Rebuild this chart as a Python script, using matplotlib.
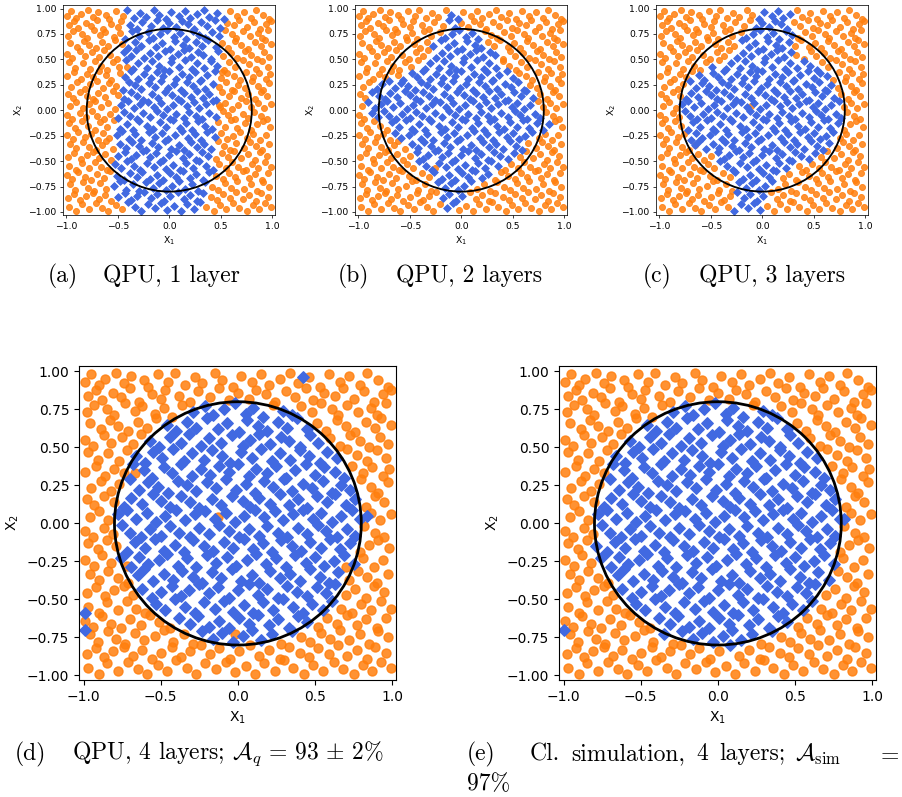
import numpy as np
import matplotlib.pyplot as plt
from matplotlib.path import Path

# --- test set (x1, x2), shared by all panels ---
TEST_POINTS = [
    (-0.99,0.93),(-0.95,0.98),(-0.90,0.91),(-0.86,0.95),(-0.79,0.99),(-0.74,0.92),(-0.69,0.97),(-0.61,0.94),(-0.58,0.90),(-0.52,0.98),(-0.45,0.93),(-0.41,0.99),(-0.34,0.91),(-0.28,0.96),(-0.23,0.92),(-0.15,0.99),(-0.10,0.94),(-0.03,0.90),(0.02,0.97),(0.09,0.93),(0.15,0.98),(0.20,0.91),(0.27,0.95),(0.34,0.99),(0.39,0.92),(0.46,0.96),(0.53,0.90),(0.59,0.98),(0.66,0.93),(0.72,0.97),(0.79,0.91),(0.84,0.99),(0.91,0.94),(0.97,0.90),
    (-0.97,0.84),(-0.92,0.88),(-0.88,0.81),(-0.81,0.86),(-0.76,0.83),(-0.70,0.89),(-0.64,0.80),(-0.56,0.85),(-0.50,0.82),(-0.47,0.88),(-0.38,0.84),(-0.31,0.80),(-0.26,0.87),(-0.18,0.83),(-0.12,0.89),(-0.06,0.81),(0.00,0.86),(0.07,0.82),(0.12,0.88),(0.18,0.85),(0.24,0.80),(0.31,0.87),(0.37,0.83),(0.44,0.89),(0.49,0.81),(0.56,0.86),(0.63,0.84),(0.68,0.89),(0.75,0.82),(0.82,0.87),(0.88,0.80),(0.94,0.85),(0.99,0.88),
    (-0.98,0.73),(-0.93,0.78),(-0.85,0.75),(-0.80,0.71),(-0.73,0.79),(-0.67,0.74),(-0.62,0.77),(-0.54,0.72),(-0.48,0.76),(-0.43,0.70),(-0.36,0.78),(-0.29,0.73),(-0.21,0.77),(-0.16,0.71),(-0.09,0.75),(-0.02,0.79),(0.05,0.72),(0.10,0.76),(0.16,0.70),(0.23,0.78),(0.29,0.74),(0.35,0.71),(0.41,0.77),(0.48,0.73),(0.54,0.79),(0.61,0.75),(0.65,0.71),(0.71,0.78),(0.78,0.73),(0.86,0.76),(0.90,0.71),(0.96,0.79),
    (-0.96,0.66),(-0.89,0.62),(-0.83,0.68),(-0.78,0.64),(-0.71,0.61),(-0.65,0.67),(-0.59,0.63),(-0.53,0.69),(-0.46,0.65),(-0.40,0.61),(-0.33,0.67),(-0.27,0.63),(-0.20,0.69),(-0.13,0.62),(-0.07,0.66),(0.01,0.60),(0.06,0.68),(0.13,0.64),(0.19,0.61),(0.26,0.67),(0.32,0.63),(0.38,0.69),(0.45,0.62),(0.51,0.66),(0.57,0.61),(0.64,0.68),(0.70,0.64),(0.76,0.60),(0.83,0.67),(0.89,0.63),(0.93,0.69),(0.99,0.65),
    (-0.99,0.55),(-0.94,0.51),(-0.87,0.58),(-0.82,0.53),(-0.75,0.57),(-0.68,0.52),(-0.63,0.59),(-0.57,0.54),(-0.51,0.50),(-0.44,0.57),(-0.37,0.53),(-0.32,0.59),(-0.24,0.51),(-0.19,0.56),(-0.11,0.53),(-0.04,0.58),(0.03,0.51),(0.08,0.55),(0.14,0.59),(0.21,0.52),(0.28,0.57),(0.33,0.54),(0.40,0.50),(0.47,0.58),(0.52,0.53),(0.60,0.56),(0.66,0.51),(0.73,0.58),(0.79,0.54),(0.85,0.50),(0.92,0.57),(0.97,0.52),
    (-0.97,0.47),(-0.91,0.42),(-0.84,0.46),(-0.77,0.41),(-0.72,0.48),(-0.66,0.44),(-0.60,0.40),(-0.55,0.47),(-0.49,0.43),(-0.42,0.49),(-0.35,0.41),(-0.30,0.46),(-0.22,0.42),(-0.17,0.48),(-0.10,0.44),(-0.05,0.40),(0.02,0.47),(0.09,0.43),(0.15,0.49),(0.22,0.41),(0.27,0.46),(0.34,0.42),(0.40,0.48),(0.46,0.44),(0.53,0.40),(0.58,0.47),(0.64,0.43),(0.71,0.49),(0.77,0.45),(0.84,0.41),(0.90,0.48),(0.96,0.43),
    (-0.99,0.34),(-0.92,0.38),(-0.86,0.31),(-0.80,0.36),(-0.74,0.33),(-0.68,0.39),(-0.61,0.35),(-0.56,0.30),(-0.48,0.37),(-0.43,0.33),(-0.37,0.39),(-0.30,0.31),(-0.24,0.36),(-0.18,0.32),(-0.12,0.38),(-0.06,0.34),(0.00,0.39),(0.07,0.31),(0.12,0.36),(0.19,0.33),(0.25,0.38),(0.31,0.30),(0.37,0.35),(0.44,0.39),(0.50,0.32),(0.56,0.37),(0.63,0.34),(0.69,0.30),(0.74,0.38),(0.81,0.33),(0.87,0.37),(0.94,0.31),(0.98,0.36),
    (-0.95,0.23),(-0.89,0.28),(-0.82,0.21),(-0.77,0.26),(-0.70,0.29),(-0.64,0.22),(-0.58,0.27),(-0.52,0.24),(-0.45,0.20),(-0.39,0.28),(-0.33,0.25),(-0.27,0.21),(-0.20,0.27),(-0.14,0.23),(-0.08,0.29),(-0.01,0.22),(0.05,0.26),(0.11,0.20),(0.17,0.28),(0.23,0.24),(0.30,0.29),(0.35,0.21),(0.42,0.26),(0.48,0.23),(0.55,0.28),(0.61,0.20),(0.67,0.25),(0.73,0.22),(0.80,0.29),(0.86,0.24),(0.91,0.20),(0.97,0.27),
    (-0.98,0.16),(-0.93,0.12),(-0.87,0.18),(-0.80,0.14),(-0.74,0.11),(-0.69,0.17),(-0.62,0.13),(-0.55,0.19),(-0.50,0.15),(-0.44,0.11),(-0.37,0.18),(-0.31,0.14),(-0.25,0.10),(-0.17,0.16),(-0.11,0.12),(-0.04,0.18),(0.03,0.15),(0.08,0.11),(0.14,0.17),(0.21,0.13),(0.27,0.19),(0.33,0.12),(0.39,0.16),(0.45,0.10),(0.51,0.18),(0.58,0.14),(0.63,0.19),(0.70,0.12),(0.76,0.16),(0.83,0.11),(0.89,0.18),(0.95,0.14),
    (-0.96,0.04),(-0.90,0.08),(-0.84,0.02),(-0.78,0.06),(-0.72,0.09),(-0.66,0.03),(-0.59,0.07),(-0.53,0.01),(-0.47,0.05),(-0.40,0.09),(-0.34,0.02),(-0.28,0.06),(-0.21,0.08),(-0.15,0.03),(-0.08,0.07),(-0.02,0.01),(0.04,0.05),(0.11,0.09),(0.17,0.04),(0.24,0.08),(0.29,0.02),(0.36,0.06),(0.42,0.09),(0.49,0.03),(0.54,0.07),(0.61,0.01),(0.67,0.05),(0.74,0.09),(0.79,0.03),(0.86,0.07),(0.92,0.02),(0.99,0.06),
    (-0.99,-0.05),(-0.94,-0.09),(-0.87,-0.03),(-0.81,-0.07),(-0.75,-0.01),(-0.70,-0.06),(-0.63,-0.09),(-0.57,-0.04),(-0.50,-0.08),(-0.44,-0.02),(-0.38,-0.06),(-0.31,-0.09),(-0.25,-0.03),(-0.19,-0.07),(-0.12,-0.01),(-0.06,-0.05),(0.01,-0.09),(0.07,-0.04),(0.14,-0.08),(0.19,-0.02),(0.26,-0.06),(0.32,-0.09),(0.39,-0.03),(0.45,-0.07),(0.52,-0.01),(0.57,-0.05),(0.64,-0.09),(0.71,-0.04),(0.76,-0.08),(0.82,-0.02),(0.89,-0.06),(0.95,-0.09),
    (-0.97,-0.13),(-0.91,-0.17),(-0.85,-0.11),(-0.79,-0.15),(-0.72,-0.19),(-0.67,-0.12),(-0.60,-0.16),(-0.54,-0.10),(-0.48,-0.18),(-0.41,-0.14),(-0.35,-0.19),(-0.29,-0.11),(-0.22,-0.15),(-0.16,-0.18),(-0.09,-0.12),(-0.03,-0.16),(0.04,-0.10),(0.10,-0.17),(0.16,-0.13),(0.22,-0.19),(0.28,-0.11),(0.35,-0.15),(0.41,-0.18),(0.47,-0.12),(0.54,-0.16),(0.60,-0.10),(0.66,-0.17),(0.73,-0.13),(0.79,-0.19),(0.85,-0.14),(0.91,-0.11),(0.98,-0.16),
    (-0.99,-0.24),(-0.93,-0.28),(-0.88,-0.21),(-0.82,-0.26),(-0.76,-0.23),(-0.69,-0.29),(-0.64,-0.22),(-0.58,-0.27),(-0.51,-0.24),(-0.46,-0.20),(-0.39,-0.28),(-0.33,-0.23),(-0.27,-0.29),(-0.20,-0.21),(-0.14,-0.26),(-0.07,-0.22),(-0.01,-0.28),(0.06,-0.24),(0.12,-0.20),(0.18,-0.27),(0.25,-0.23),(0.31,-0.29),(0.37,-0.21),(0.44,-0.26),(0.50,-0.22),(0.56,-0.28),(0.62,-0.25),(0.69,-0.21),(0.75,-0.27),(0.81,-0.23),(0.88,-0.29),(0.94,-0.24),
    (-0.96,-0.33),(-0.90,-0.37),(-0.84,-0.31),(-0.78,-0.36),(-0.71,-0.39),(-0.65,-0.34),(-0.61,-0.30),(-0.55,-0.38),(-0.48,-0.33),(-0.42,-0.37),(-0.36,-0.31),(-0.29,-0.35),(-0.23,-0.39),(-0.17,-0.32),(-0.11,-0.36),(-0.04,-0.30),(0.02,-0.38),(0.09,-0.34),(0.14,-0.39),(0.21,-0.31),(0.27,-0.36),(0.34,-0.33),(0.40,-0.38),(0.47,-0.30),(0.53,-0.35),(0.59,-0.39),(0.65,-0.32),(0.72,-0.37),(0.78,-0.31),(0.84,-0.35),(0.90,-0.39),(0.97,-0.33),
    (-0.98,-0.46),(-0.92,-0.42),(-0.86,-0.48),(-0.80,-0.44),(-0.74,-0.41),(-0.68,-0.47),(-0.62,-0.43),(-0.56,-0.49),(-0.50,-0.45),(-0.43,-0.41),(-0.37,-0.48),(-0.32,-0.44),(-0.25,-0.40),(-0.19,-0.46),(-0.13,-0.42),(-0.06,-0.49),(0.00,-0.44),(0.07,-0.40),(0.13,-0.47),(0.19,-0.43),(0.26,-0.49),(0.32,-0.41),(0.38,-0.45),(0.45,-0.48),(0.51,-0.42),(0.57,-0.46),(0.63,-0.40),(0.70,-0.47),(0.76,-0.43),(0.83,-0.49),(0.88,-0.41),(0.95,-0.45),
    (-0.97,-0.55),(-0.90,-0.59),(-0.85,-0.52),(-0.78,-0.57),(-0.72,-0.51),(-0.66,-0.56),(-0.60,-0.59),(-0.53,-0.53),(-0.47,-0.57),(-0.41,-0.50),(-0.34,-0.55),(-0.28,-0.59),(-0.22,-0.52),(-0.15,-0.56),(-0.09,-0.51),(-0.03,-0.58),(0.04,-0.54),(0.10,-0.59),(0.16,-0.52),(0.23,-0.57),(0.29,-0.50),(0.36,-0.55),(0.42,-0.59),(0.48,-0.53),(0.55,-0.57),(0.61,-0.51),(0.67,-0.56),(0.74,-0.59),(0.80,-0.53),(0.86,-0.57),(0.93,-0.51),(0.99,-0.56),
    (-0.99,-0.64),(-0.94,-0.68),(-0.88,-0.61),(-0.82,-0.66),(-0.76,-0.69),(-0.70,-0.63),(-0.63,-0.67),(-0.57,-0.60),(-0.51,-0.65),(-0.44,-0.69),(-0.38,-0.62),(-0.31,-0.66),(-0.26,-0.61),(-0.19,-0.68),(-0.12,-0.64),(-0.06,-0.69),(0.01,-0.62),(0.07,-0.66),(0.13,-0.60),(0.20,-0.67),(0.26,-0.63),(0.33,-0.69),(0.39,-0.61),(0.45,-0.65),(0.52,-0.68),(0.58,-0.62),(0.64,-0.66),(0.71,-0.60),(0.77,-0.67),(0.83,-0.63),(0.90,-0.69),(0.96,-0.62),
    (-0.96,-0.73),(-0.91,-0.78),(-0.84,-0.71),(-0.79,-0.76),(-0.73,-0.79),(-0.67,-0.72),(-0.61,-0.77),(-0.54,-0.74),(-0.48,-0.70),(-0.42,-0.78),(-0.35,-0.73),(-0.29,-0.79),(-0.23,-0.71),(-0.16,-0.76),(-0.10,-0.72),(-0.03,-0.78),(0.03,-0.74),(0.09,-0.70),(0.15,-0.77),(0.22,-0.73),(0.28,-0.79),(0.35,-0.71),(0.41,-0.75),(0.47,-0.78),(0.54,-0.72),(0.60,-0.76),(0.66,-0.70),(0.72,-0.77),(0.79,-0.73),(0.85,-0.79),(0.91,-0.71),(0.97,-0.75),
    (-0.98,-0.86),(-0.92,-0.82),(-0.87,-0.88),(-0.81,-0.84),(-0.74,-0.81),(-0.68,-0.87),(-0.62,-0.83),(-0.56,-0.89),(-0.50,-0.85),(-0.43,-0.81),(-0.37,-0.88),(-0.31,-0.84),(-0.24,-0.80),(-0.18,-0.86),(-0.12,-0.82),(-0.05,-0.89),(0.01,-0.84),(0.08,-0.80),(0.14,-0.87),(0.20,-0.83),(0.27,-0.89),(0.33,-0.81),(0.40,-0.85),(0.46,-0.88),(0.52,-0.82),(0.59,-0.86),(0.65,-0.80),(0.71,-0.87),(0.77,-0.83),(0.84,-0.89),(0.89,-0.81),(0.96,-0.85),
    (-0.97,-0.95),(-0.90,-0.99),(-0.85,-0.92),(-0.78,-0.97),(-0.71,-0.91),(-0.65,-0.96),(-0.59,-0.99),(-0.52,-0.93),(-0.46,-0.97),(-0.40,-0.90),(-0.33,-0.95),(-0.27,-0.99),(-0.21,-0.92),(-0.14,-0.96),(-0.08,-0.91),(-0.02,-0.98),(0.05,-0.94),(0.11,-0.99),(0.17,-0.92),(0.24,-0.97),(0.30,-0.90),(0.36,-0.95),(0.43,-0.99),(0.49,-0.93),(0.55,-0.97),(0.62,-0.91),(0.68,-0.96),(0.75,-0.99),(0.81,-0.93),(0.87,-0.97),(0.93,-0.91),(0.99,-0.95),
]

# --- region predicted as the inner class (blue) for the QPU runs with 1-3 layers ---
REGION_1_LAYER = [(-0.41,1.1),(0.56,1.1),(0.56,0.9),(0.50,0.72),(0.48,0.50),(0.44,0.30),(0.46,0.05),
                  (0.47,-0.20),(0.44,-0.45),(0.41,-0.70),(0.38,-0.90),(0.24,-1.1),(-0.27,-1.1),(-0.52,-0.85),
                  (-0.58,-0.65),(-0.54,-0.50),(-0.53,-0.30),(-0.49,0.0),(-0.50,0.25),(-0.44,0.60),(-0.45,0.80)]
REGION_2_LAYERS = [(-0.12,1.05),(-0.05,1.05),(0.0,0.85),(0.15,0.75),(0.30,0.60),(0.42,0.45),(0.60,0.32),
                   (0.72,0.15),(0.76,0.0),(0.86,-0.15),(0.66,-0.30),(0.55,-0.45),(0.40,-0.60),(0.10,-0.75),
                   (-0.05,-0.90),(-0.11,-1.05),(-0.18,-1.05),(-0.23,-0.80),(-0.32,-0.60),(-0.47,-0.45),
                   (-0.57,-0.30),(-0.77,-0.15),(-0.93,-0.05),(-0.92,0.10),(-0.82,0.34),(-0.60,0.30),
                   (-0.45,0.45),(-0.30,0.60),(-0.20,0.75),(-0.14,0.90)]
REGION_3_LAYERS = [(-0.08,1.05),(0.30,1.05),(0.30,0.50),(0.55,0.45),(0.72,0.25),(0.79,0.0),(0.72,-0.20),
                   (0.65,-0.35),(0.55,-0.45),(0.30,-0.55),(0.05,-0.75),(0.02,-1.05),(-0.28,-1.05),(-0.27,-0.70),
                   (-0.38,-0.55),(-0.50,-0.42),(-0.65,-0.36),(-0.76,-0.20),(-0.80,0.0),(-0.75,0.25),
                   (-0.55,0.42),(-0.33,0.50),(-0.20,0.60),(-0.22,0.75),(-0.10,0.88)]
# 4 layers: boundary is close to the true circle
RADIUS_4_LAYERS_QPU = 0.80
RADIUS_4_LAYERS_SIM = 0.81
TRUE_RADIUS = 0.8

# isolated wrong-class points that stand out in each panel
ODD_ORANGE_A = [(-0.41,0.43),(0.51,0.38),(0.48,0.05)]
ODD_ORANGE_B = [(-0.25,-0.57)]
ODD_ORANGE_C = [(-0.11,0.04),(-0.65,-0.34)]
ODD_ORANGE_D = [(-0.13,0.04),(-0.67,0.33),(-0.02,-0.73),(-0.72,-0.28),(0.70,-0.29)]
ODD_BLUE_D = [(-0.99,-0.59),(-0.99,-0.70),(0.42,0.96),(0.84,0.05)]
ODD_BLUE_E = [(-1.0,-0.70),(0.82,0.03)]

CAPTIONS = {
    'a': ('(a)', 'QPU, 1 layer'),
    'b': ('(b)', 'QPU, 2 layers'),
    'c': ('(c)', 'QPU, 3 layers'),
    'd': ('(d)', r'QPU, 4 layers; $\mathcal{A}_q \,=\, 93 \,\pm\, 2\%$'),
}

ORANGE = '#ff7f0e'
BLUE = 'royalblue'
W, H = 903, 797


def rect(left, top, w, h):
    return [left / W, 1 - (top + h) / H, w / W, h / H]


def draw_panel(ax, pts, blue_mask, odd_orange, odd_blue, k):
    orange = pts[~blue_mask]
    blue = pts[blue_mask]
    if odd_orange:
        orange = np.vstack([orange, np.array(odd_orange)])
    if odd_blue:
        blue = np.vstack([blue, np.array(odd_blue)])
    ax.scatter(orange[:, 0], orange[:, 1], s=42 * k**2, c=ORANGE, alpha=0.85,
               marker='o', linewidths=1.0 * k)
    ax.scatter(blue[:, 0], blue[:, 1], s=34 * k**2, c=BLUE, marker='D', linewidths=1.0 * k)
    ax.add_patch(plt.Circle((0, 0), TRUE_RADIUS, fill=False, color='black', lw=2.0 * k))
    ax.set_xlim(-1.03, 1.025)
    ax.set_ylim(-1.03, 1.035)
    ax.set_xticks([-1.0, -0.5, 0.0, 0.5, 1.0])
    yt = [-1.0, -0.75, -0.5, -0.25, 0.0, 0.25, 0.5, 0.75, 1.0]
    ax.set_yticks(yt)
    ax.set_yticklabels([('%.2f' % v).replace('-', '\u2212') for v in yt])
    ax.tick_params(labelsize=10 * k, length=3.5 * k, width=0.8 * k, pad=3.5 * k)
    for sp in ax.spines.values():
        sp.set_linewidth(0.8 * k)
    ax.set_xlabel('X$_1$', fontsize=10 * k, labelpad=4 * k)
    ax.set_ylabel('X$_2$', fontsize=10 * k, labelpad=4 * k)


pts = np.array(TEST_POINTS)
r2 = pts[:, 0]**2 + pts[:, 1]**2

fig = plt.figure(figsize=(W / 100, H / 100), dpi=100)

small = 0.67
ax_a = fig.add_axes(rect(63, 5, 212, 210))
draw_panel(ax_a, pts, Path(REGION_1_LAYER).contains_points(pts), ODD_ORANGE_A, None, small)
ax_b = fig.add_axes(rect(355, 5, 212, 210))
draw_panel(ax_b, pts, Path(REGION_2_LAYERS).contains_points(pts), ODD_ORANGE_B, None, small)
ax_c = fig.add_axes(rect(656, 5, 212, 210))
draw_panel(ax_c, pts, Path(REGION_3_LAYERS).contains_points(pts), ODD_ORANGE_C, None, small)
ax_d = fig.add_axes(rect(79, 366, 317, 314))
draw_panel(ax_d, pts, r2 < RADIUS_4_LAYERS_QPU**2, ODD_ORANGE_D, ODD_BLUE_D, 1.0)
ax_e = fig.add_axes(rect(559, 366, 317, 314))
draw_panel(ax_e, pts, r2 < RADIUS_4_LAYERS_SIM**2, None, ODD_BLUE_E, 1.0)

# captions (LaTeX-like serif)
cap = dict(fontfamily='cmr10', math_fontfamily='cm', fontsize=17, va='center')
for key, xl, xb, yc in [('a', 48, 103, 276), ('b', 338, 396, 276), ('c', 643, 699, 276),
                        ('d', 15, 72, 754)]:
    lab, body = CAPTIONS[key]
    fig.text(xl / W, 1 - yc / H, lab, **cap)
    fig.text(xb / W, 1 - yc / H, body, **cap)

for txt, x in [('(e)', 467), ('Cl.', 530), ('simulation,', 571), ('4', 696), ('layers;', 719),
               (r'$\mathcal{A}_{\mathrm{sim}}$', 795), (r'$=$', 876)]:
    fig.text(x / W, 1 - 754 / H, txt, **cap)
fig.text(467 / W, 1 - 784 / H, '97%', **cap)

fig.savefig('out.png', dpi=100)
